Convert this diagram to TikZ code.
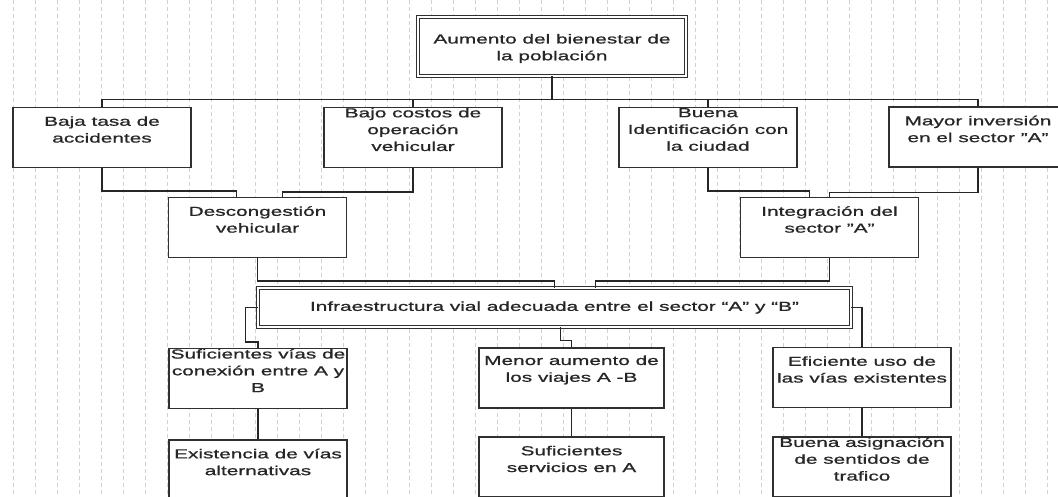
\documentclass[tikz,border=0pt]{standalone}
\usepackage{fontspec}
\setmainfont{Liberation Sans}[FakeStretch = 1.6, FakeBold = 0.9]
\usetikzlibrary{
    calc
}
\definecolor{inkgray}{HTML}{303030}
\tikzset {
    single line/.style = {draw = inkgray, line width = 1.3pt},
    double line/.style = {draw = inkgray, line width = 0.9pt, double = white, double distance = 1.6pt},
    box text/.style = {align = center, text = black!85, font = \fontsize{13}{16.8}\selectfont},
    %
    box/.style = {
        single line, fill = white, inner sep = 0pt,
        minimum width = 178pt, minimum height = 60pt,
        label = {[box text, yshift = 8pt]center:#1}
    },
    top box/.style = {
        double line, fill = white, inner sep = 0pt,
        minimum width = 268pt, minimum height = 59pt,
        label = {[box text, yshift = -2pt]center:#1}
    },
    wide box/.style = {
        double line, fill = white, inner sep = 0pt,
        minimum width = 593pt, minimum height = 39pt,
        label = {[box text]center:#1}
    },
    link/.style = {draw = black!85, line width = 1.4pt},
    grid line/.style = {draw = black!18, line width = 0.6pt, dash pattern = on 4pt off 3pt}
}

\begin{document}
\begin{tikzpicture}[x = 1pt, y = -1pt]
    \clip (0, 0) rectangle (1058, 496);
    \fill [white] (0, 0) rectangle (1058, 496);
    \foreach \gx in {13, 35, ..., 1057}
        \draw [grid line] (\gx, 0) -- (\gx, 496);
    % fines
    \node (top) [top box = {Aumento del bienestar de\\la población}] at (552, 46.5) {};
    \node (baja) [box = {Baja tasa de\\accidentes}] at (102, 137.5) {};
    \node (bajo) [box = {Bajo costos de\\operación\\vehicular}] at (413, 137.5) {};
    \node (buena) [box = {Buena\\Identificación con\\la ciudad}] at (708, 137.5) {};
    \node (mayor) [box = {Mayor inversión\\en el sector "A"}] at (978, 137) {};
    \node (desc) [box = {Descongestión\\vehicular}] at (257.5, 227.5) {};
    \node (integ) [box = {Integración del\\sector "A"}] at (829.5, 227.5) {};
    % objetivo central
    \node (infra) [wide box = {Infraestructura vial adecuada entre el sector “A” y “B”}] at (554.5, 307.5) {};
    % medios
    \node (suf) [box = {Suficientes vías de\\conexión entre A y\\B}] at (258, 378.5) {};
    \node (menor) [box = {Menor aumento de\\los viajes A -B}, minimum width = 185pt] at (571.5, 378) {};
    \node (efic) [box = {Eficiente uso de\\las vías existentes}] at (862, 377.5) {};
    \node (exist) [box = {Existencia de vías\\alternativas}] at (258, 470) {};
    \node (serv) [box = {Suficientes\\servicios en A}, minimum width = 185pt] at (571.5, 467) {};
    \node (asign) [box = {Buena asignación\\de sentidos de\\trafico}] at (862, 467) {};

    \draw [link] (top.south) -- ++(0, 23) coordinate (bus);
    \draw [link] (baja.north) |- (bus) -| (mayor.north);
    \draw [link] (bajo.north) -- (bajo.north |- bus);
    \draw [link] (buena.north) -- (buena.north |- bus);

    \draw [link] (baja.south) -- ++(0, 23) -| ($(desc.north) + (-21, 0)$);
    \draw [link] (bajo.south) -- ++(0, 24) -| ($(desc.north) + (25, 0)$);
    \draw [link] (buena.south) -- ++(0, 23) -| ($(integ.north) + (-20, 0)$);
    \draw [link] (mayor.south) -- ++(0, 25) -| (integ.north);

    \draw [link] (desc.south) -- ++(0, 23) -| (infra.north);
    \draw [link] (integ.south) -- ++(0, 23) -| ($(infra.north) + (41, 0)$);

    \draw [link] (infra.west) -- ++(-12, 0) |- ($(suf.north) + (0, -6)$) -- (suf.north);
    \draw [link] ($(infra.south) + (6, 0)$) -- ++(0, 13) -| (menor.north);
    \draw [link] (infra.east) -| (efic.north);

    \draw [link] (suf.south) -- (exist.north);
    \draw [link] (menor.south) -- (serv.north);
    \draw [link] (efic.south) -- (asign.north);
\end{tikzpicture}
\end{document}
